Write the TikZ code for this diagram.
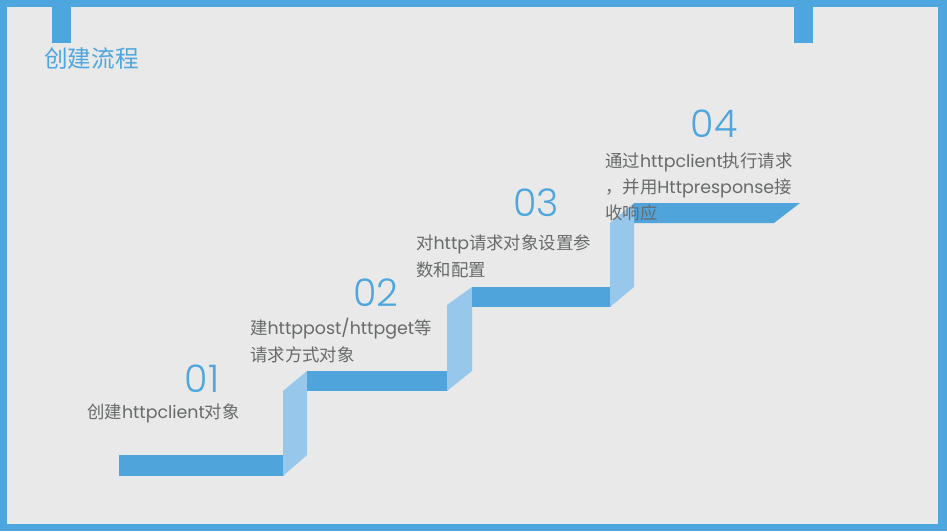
\documentclass[tikz,border=0pt]{standalone}
\usepackage{fontspec}
\setmainfont{Poppins}
\newfontfamily\cjk{Noto Sans CJK SC}
\newfontfamily\numfont{Poppins}[UprightFont=* Light]
\definecolor{bluemain}{RGB}{78,166,222}
\definecolor{bgc}{RGB}{232,233,232}
\definecolor{riser}{RGB}{151,200,236}
\definecolor{barc}{RGB}{80,164,220}
\definecolor{txtgray}{RGB}{104,106,106}
\tikzset{
  numtxt/.style={anchor=base, text=bluemain, font=\numfont\fontsize{38}{38}\selectfont, inner sep=0pt},
  desc/.style={anchor=base west, text=txtgray, font=\fontsize{17.4}{17.4}\selectfont, inner sep=0pt},
  barstyle/.style={fill=barc},
  riserstyle/.style={fill=riser}
}
\begin{document}
\begin{tikzpicture}[x=1pt,y=-1pt]
\useasboundingbox (0,0) rectangle (947,531);
% frame
\fill[bluemain] (0,0) rectangle (947,531);
\fill[bgc] (7,7) rectangle (938,524);
\fill[bluemain] (52,0) rectangle (71,43);
\fill[bluemain] (794,0) rectangle (813,43);
% title
\node[anchor=base west, text=bluemain, font=\cjk\fontsize{23.6}{23.6}\selectfont, inner sep=0pt] (title) at (44,67) {创建流程};
% stairs
\fill[barstyle] (119,455) rectangle (284,476);
\fill[riserstyle] (283,391) -- (307,371) -- (307,455) -- (283,476) -- cycle;
\fill[barstyle] (307,371) rectangle (448,391);
\fill[riserstyle] (447,305) -- (472,287) -- (472,371) -- (447,391) -- cycle;
\fill[barstyle] (472,287) rectangle (611,307);
\fill[riserstyle] (610,223) -- (634,203) -- (634,287) -- (610,307) -- cycle;
\fill[barstyle] (634,203) -- (800,203) -- (774,223) -- (634,223) -- cycle;
% numbers
\node[numtxt] (n1) at (202,392) {01};
\node[numtxt] (n2) at (376,306) {02};
\node[numtxt] (n3) at (536,216) {03};
\node[numtxt] (n4) at (714,137) {04};
% descriptions
\node[desc] (d1) at (87,418.5) {{\cjk 创建}httpclient{\cjk 对象}};
\node[desc] (d2a) at (250,334.5) {{\cjk 建}httppost/httpget{\cjk 等}};
\node[desc] (d2b) at (250,361.5) {{\cjk 请求方式对象}};
\node[desc] (d3a) at (416,249.5) {{\cjk 对}http{\cjk 请求对象设置参}};
\node[desc] (d3b) at (416,276.5) {{\cjk 数和配置}};
\node[desc] (d4a) at (605,167.5) {{\cjk 通过}httpclient{\cjk 执行请求}};
\node[desc] (d4b) at (605,193.5) {{\cjk ，并用}Httpresponse{\cjk 接}};
\node[desc] (d4c) at (605,219.5) {{\cjk 收响应}};
\end{tikzpicture}
\end{document}
